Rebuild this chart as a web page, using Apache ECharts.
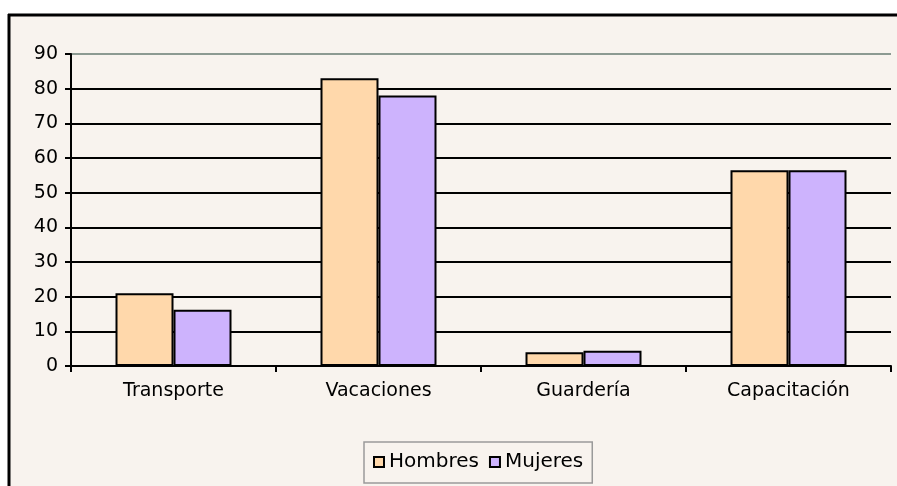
<!DOCTYPE html>
<html><head><meta charset="utf-8">
<script src="https://cdn.jsdelivr.net/npm/echarts@6/dist/echarts.min.js"></script>
<style>html,body{margin:0;padding:0;background:#fff}#c{width:897px;height:486px}</style>
</head><body><div id="c"></div>
<script>
const categories = ['Transporte', 'Vacaciones', 'Guardería', 'Capacitación'];
const hombres = [21, 83, 4, 56.5];
const mujeres = [16.2, 78, 4.4, 56.5];
const seriesNames = ['Hombres', 'Mujeres'];

const chart = echarts.init(document.getElementById('c'), null, {renderer: 'canvas'});
const font = 'DejaVu Sans';
chart.setOption({
  animation: false,
  backgroundColor: '#fff',
  graphic: [
    {type: 'rect', z: -10, shape: {x: 9, y: 15, width: 888, height: 471}, style: {fill: '#f8f3ee'}},
    {type: 'line', z: 10, shape: {x1: 8, y1: 15, x2: 897, y2: 15}, style: {stroke: '#000', lineWidth: 3}},
    {type: 'line', z: 10, shape: {x1: 9, y1: 14, x2: 9, y2: 486}, style: {stroke: '#000', lineWidth: 3}}
  ],
  grid: {left: 71, right: 6, top: 54, bottom: 120},
  legend: {
    data: seriesNames,
    left: 364, top: 442,
    padding: [10, 9, 11, 9],
    itemWidth: 10, itemHeight: 10, itemGap: 10,
    icon: 'rect',
    borderColor: '#9a9a9a', borderWidth: 1.5,
    itemStyle: {borderColor: '#000', borderWidth: 2},
    textStyle: {fontFamily: font, fontSize: 20, color: '#000'}
  },
  xAxis: {
    type: 'category',
    data: categories,
    axisLine: {lineStyle: {color: '#000', width: 2}},
    axisTick: {show: true, length: 6, lineStyle: {color: '#000', width: 2}},
    axisLabel: {fontFamily: font, fontSize: 19, color: '#000', margin: 16}
  },
  yAxis: {
    type: 'value', min: 0, max: 90, interval: 10,
    axisLine: {show: true, lineStyle: {color: '#000', width: 2}},
    axisTick: {show: true, length: 6, lineStyle: {color: '#000', width: 2}},
    axisLabel: {fontFamily: font, fontSize: 19, color: '#000', margin: 13},
    splitLine: {lineStyle: {width: 2, color: ['#000','#000','#000','#000','#000','#000','#000','#000','#000','#8c9a92']}}
  },
  series: [
    {name: seriesNames[0], type: 'bar', data: hombres, barWidth: 58, barGap: '0%',
     itemStyle: {color: '#ffd8ab', borderColor: '#000', borderWidth: 2}},
    {name: seriesNames[1], type: 'bar', data: mujeres, barWidth: 58, barGap: '0%',
     itemStyle: {color: '#cdb3fd', borderColor: '#000', borderWidth: 2}}
  ]
});
</script></body></html>
